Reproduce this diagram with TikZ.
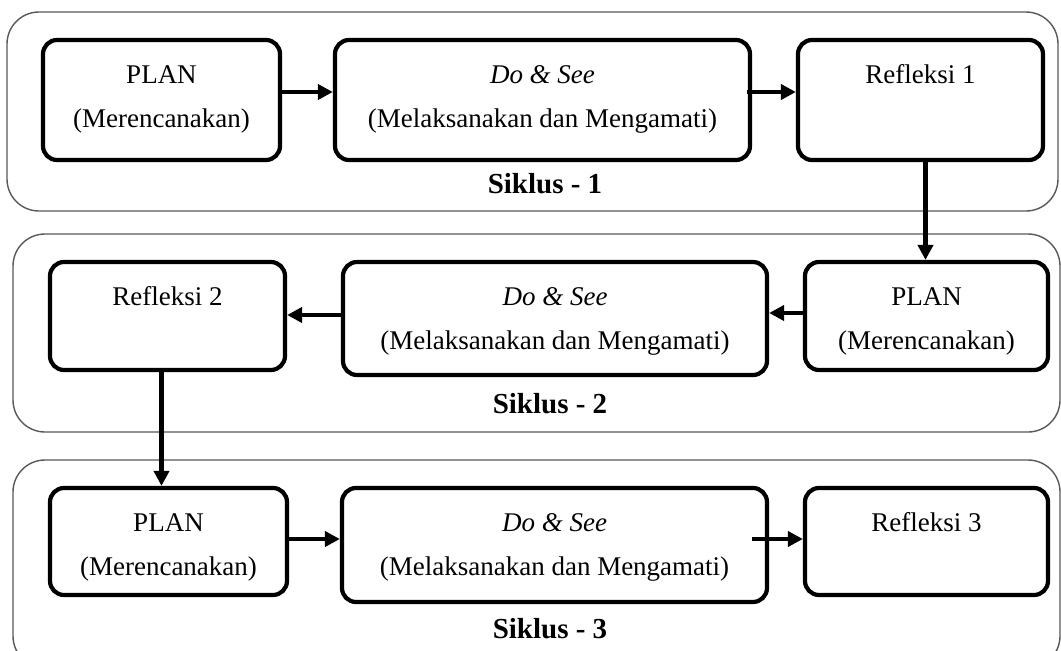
\documentclass[tikz,border=0pt]{standalone}
\usepackage{fontspec}
\setmainfont{Liberation Serif}
\usetikzlibrary{arrows.meta}
\newcommand\bxt[4]{\parbox[c][#2][t]{#1}{\centering\vspace*{22pt}\strut#3\\[14pt]\strut#4\par}}
\tikzset{
  stage/.style={draw=black, line width=4.2pt, rounded corners=14pt, inner sep=0pt, fill=white,
    font=\fontsize{27}{30}\selectfont},
  cyc/.style={draw=black!65, line width=1.4pt, rounded corners=32pt},
  arr/.style={line width=4.2pt, -{Triangle[length=15pt,width=15pt]}},
  lbl/.style={font=\fontsize{29}{31}\selectfont\bfseries, anchor=base, inner sep=0pt}
}
\begin{document}
\begin{tikzpicture}[x=1pt,y=-1pt]
\clip (0,0) rectangle (1061,651);
\fill[white] (0,0) rectangle (1061,651);
% cycle containers
\draw[cyc] (7,12) rectangle (1058,211);
\draw[cyc] (13,234) rectangle (1060,432);
\draw[cyc] (13,460) rectangle (1060,668);
% row 1
\node[stage] (p1) at (161.5,100) {\bxt{237pt}{120pt}{PLAN}{(Merencanakan)}};
\node[stage] (d1) at (542.5,100) {\bxt{415pt}{120pt}{\textit{Do \& See}}{(Melaksanakan dan Mengamati)}};
\node[stage] (r1) at (920.5,100) {\bxt{245pt}{120pt}{Refleksi 1}{}};
% row 2
\node[stage] (r2) at (167.5,316) {\bxt{235pt}{108pt}{Refleksi 2}{}};
\node[stage] (d2) at (555,318.5) {\bxt{424pt}{113pt}{\textit{Do \& See}}{(Melaksanakan dan Mengamati)}};
\node[stage] (p2) at (926.5,316) {\bxt{243pt}{108pt}{PLAN}{(Merencanakan)}};
% row 3
\node[stage] (p3) at (168.5,541.5) {\bxt{237pt}{107pt}{PLAN}{(Merencanakan)}};
\node[stage] (d3) at (554.5,545) {\bxt{425pt}{114pt}{\textit{Do \& See}}{(Melaksanakan dan Mengamati)}};
\node[stage] (r3) at (926.5,541.5) {\bxt{243pt}{107pt}{Refleksi 3}{}};
% labels
\node[lbl] (l1) at (545,193) {Siklus - 1};
\node[lbl] (l2) at (550,413) {Siklus - 2};
\node[lbl] (l3) at (550,638) {Siklus - 3};
% arrows
\draw[arr] ([yshift=8pt]p1.east) -- ([yshift=8pt]p1.east -| d1.west);
\draw[arr] ([yshift=8pt,xshift=-5pt]d1.east) -- ([yshift=8pt]d1.east -| r1.west);
\draw[arr] ([xshift=5pt]r1.south) -- ([xshift=5pt]r1.south |- p2.north);
\draw[arr] ([yshift=3pt]p2.west) -- ([yshift=3pt]p2.west -| d2.east);
\draw[arr] ([yshift=3.5pt]d2.west) -- ([yshift=3.5pt]d2.west -| r2.east);
\draw[arr] ([xshift=-6pt]r2.south) -- ([xshift=-6pt]r2.south |- p3.north);
\draw[arr] ([yshift=2.5pt]p3.east) -- ([yshift=2.5pt]p3.east -| d3.west);
\draw[arr] ([yshift=6pt,xshift=-17pt]d3.east) -- ([yshift=6pt]d3.east -| r3.west);
\end{tikzpicture}
\end{document}
